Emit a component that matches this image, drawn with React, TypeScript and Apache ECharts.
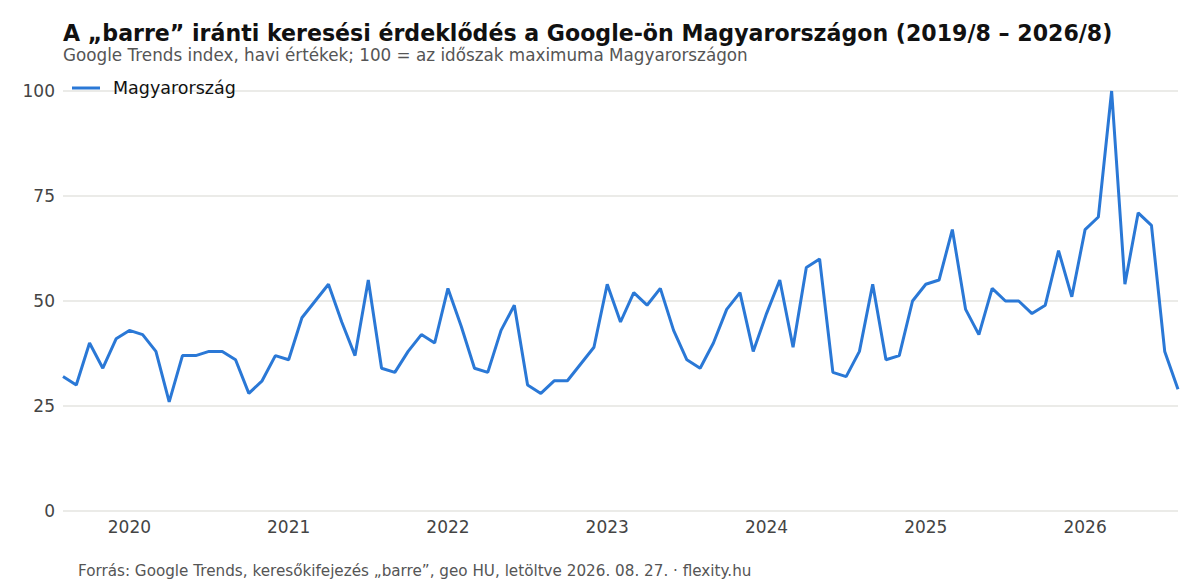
import React, { useEffect, useRef } from "react";
import * as echarts from "echarts";

const months: string[] = [];
for (let y = 2019, m = 8; y < 2026 || (y === 2026 && m <= 8); ) {
  months.push(`${y}-${String(m).padStart(2, "0")}`);
  m++;
  if (m > 12) { m = 1; y++; }
}

const values = [
  32, 30, 40, 34, 41, 43, 42, 38, 26, 37,
  37, 38, 38, 36, 28, 31, 37, 36, 46, 50,
  54, 45, 37, 55, 34, 33, 38, 42, 40, 53,
  44, 34, 33, 43, 49, 30, 28, 31, 31, 35,
  39, 54, 45, 52, 49, 53, 43, 36, 34, 40,
  48, 52, 38, 47, 55, 39, 58, 60, 33, 32,
  38, 54, 36, 37, 50, 54, 55, 67, 48, 42,
  53, 50, 50, 47, 49, 62, 51, 67, 70, 100,
  54, 71, 68, 38, 29,
];

const yTicks = [0, 25, 50, 75, 100];

const TITLE = "A „barre” iránti keresési érdeklődés a Google-ön Magyarországon (2019/8 – 2026/8)";
const SUBTITLE = "Google Trends index, havi értékek; 100 = az időszak maximuma Magyarországon";
const FOOTER = "Forrás: Google Trends, keresőkifejezés „barre”, geo HU, letöltve 2026. 08. 27. · flexity.hu";
const SERIES_NAME = "Magyarország";

const FONT = "DejaVu Sans";

export default function App() {
  const ref = useRef<HTMLDivElement>(null);
  useEffect(() => {
    if (!ref.current) return;
    const chart = echarts.init(ref.current, undefined, { renderer: "svg" });
    chart.setOption({
      animation: false,
      backgroundColor: "#ffffff",
      textStyle: { fontFamily: FONT },
      title: [
        {
          text: TITLE,
          left: 63,
          top: 22,
          padding: 0,
          textStyle: { fontFamily: FONT, fontSize: 22.1, fontWeight: "bold", color: "#111111" },
        },
        {
          text: SUBTITLE,
          left: 63,
          top: 46,
          padding: 0,
          textStyle: { fontFamily: FONT, fontSize: 16.8, fontWeight: "normal", color: "#555555" },
        },
        {
          text: FOOTER,
          left: 78,
          top: 563,
          padding: 0,
          textStyle: { fontFamily: FONT, fontSize: 15.2, fontWeight: "normal", color: "#555555" },
        },
      ],
      legend: {
        left: 72,
        top: 79,
        padding: 0,
        icon: "rect",
        itemWidth: 28,
        itemHeight: 3,
        data: [SERIES_NAME],
        textStyle: { fontFamily: FONT, fontSize: 17.5, color: "#111111", padding: [0, 0, 0, 8] },
      },
      grid: { left: 63, right: 22, top: 91, bottom: 74, containLabel: false },
      xAxis: {
        type: "category",
        data: months,
        boundaryGap: false,
        axisLine: { show: false },
        axisTick: { show: false },
        splitLine: { show: false },
        axisLabel: {
          interval: (i: number, v: string) => v.endsWith("-01"),
          formatter: (v: string) => v.slice(0, 4),
          fontFamily: FONT,
          fontSize: 17,
          color: "#444444",
          margin: 7,
        },
      },
      yAxis: {
        type: "value",
        min: 0,
        max: 100,
        interval: 25,
        axisLine: { show: false },
        axisTick: { show: false },
        splitLine: { lineStyle: { color: "#e4e4e0", width: 1.5 } },
        axisLabel: {
          fontFamily: FONT,
          fontSize: 17,
          color: "#444444",
          margin: 8,
          formatter: (v: number) => (yTicks.includes(v) ? String(v) : ""),
        },
      },
      series: [
        {
          name: SERIES_NAME,
          type: "line",
          data: values,
          symbol: "none",
          lineStyle: { color: "#2a78d6", width: 3 },
          itemStyle: { color: "#2a78d6" },
        },
      ],
    });
    return () => chart.dispose();
  }, []);
  return (
    <div
      ref={ref}
      style={{ position: "fixed", left: 0, top: 0, width: 1200, height: 585, background: "#fff" }}
    />
  );
}
